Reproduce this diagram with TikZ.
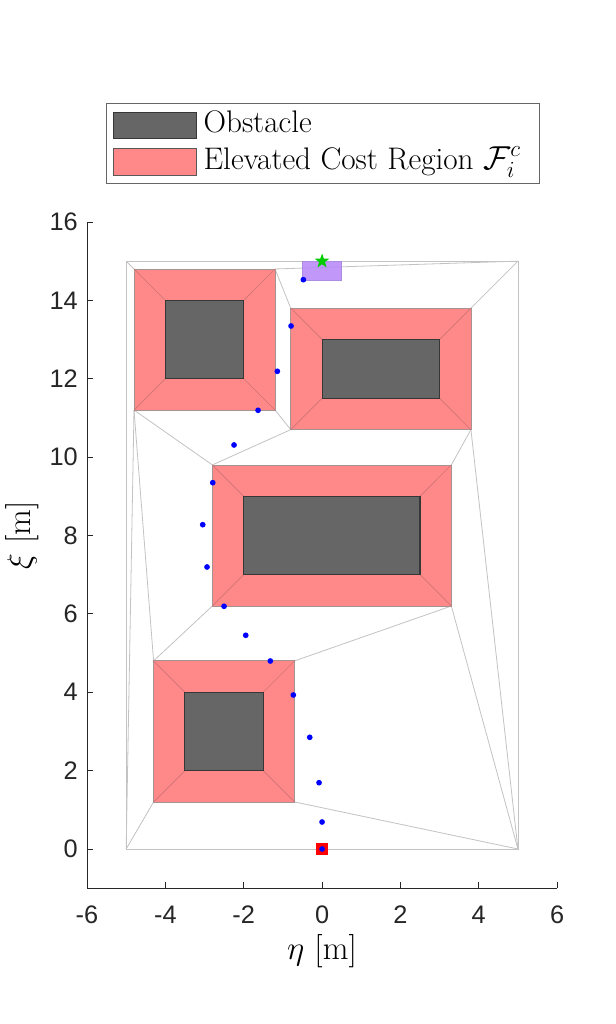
\documentclass[tikz,border=0pt]{standalone}
\usepackage{fontspec}
\usetikzlibrary{shapes.geometric}
\newfontfamily\ticksfont{Liberation Sans}
\definecolor{cellgray}{RGB}{195,195,195}
\definecolor{costred}{RGB}{255,136,136}
\definecolor{costedge}{RGB}{168,145,145}
\definecolor{diagred}{RGB}{205,118,118}
\definecolor{obsgray}{RGB}{102,102,102}
\definecolor{obsedge}{RGB}{55,55,55}
\definecolor{goalpurple}{RGB}{183,135,250}
\definecolor{goaledge}{RGB}{170,140,225}
\definecolor{axiscol}{RGB}{38,38,38}
\definecolor{starcol}{RGB}{0,204,0}
\definecolor{pathblue}{RGB}{0,0,255}
\begin{document}
\begin{tikzpicture}[x=29.38pt,y=29.39pt,
  cellline/.style={draw=cellgray,line width=0.6pt},
  costregion/.style={fill=costred,draw=costedge,line width=0.6pt},
  costdiag/.style={draw=diagred,line width=0.5pt},
  obstacle/.style={fill=obsgray,draw=obsedge,line width=0.8pt},
  axisline/.style={draw=axiscol,line width=0.6pt},
  ticklab/.style={text=axiscol,font=\ticksfont\fontsize{19}{22}\selectfont,inner sep=0pt},
  axlab/.style={text=black,font=\fontsize{25}{29}\selectfont,inner sep=0pt},
  leglab/.style={text=black,font=\fontsize{23.4}{27}\selectfont,inner sep=0pt,anchor=base west},
  pathdot/.style={circle,fill=pathblue,inner sep=0pt,minimum size=4.3pt}
]
\useasboundingbox (-8.2206,-4.4654) rectangle (7.4802,21.6637);
\fill[white] (-8.2206,-4.4654) rectangle (7.4802,21.6637);

% corners
\coordinate (BL0) at (-5,0);  \coordinate (BR0) at (5,0);
\coordinate (TR0) at (5,15);  \coordinate (TL0) at (-5,15);
\coordinate (A1) at (-4.8,14.8); \coordinate (B1) at (-1.2,14.8);
\coordinate (C1) at (-1.2,11.2); \coordinate (D1) at (-4.8,11.2);
\coordinate (A2) at (-0.8,13.8); \coordinate (B2) at (3.8,13.8);
\coordinate (C2) at (3.8,10.7);  \coordinate (D2) at (-0.8,10.7);
\coordinate (A3) at (-2.8,9.8);  \coordinate (B3) at (3.3,9.8);
\coordinate (C3) at (3.3,6.2);   \coordinate (D3) at (-2.8,6.2);
\coordinate (A4) at (-4.3,4.8);  \coordinate (B4) at (-0.7,4.8);
\coordinate (C4) at (-0.7,1.2);  \coordinate (D4) at (-4.3,1.2);
% obstacle corners
\coordinate (a1) at (-4,14); \coordinate (b1) at (-2,14); \coordinate (c1) at (-2,12); \coordinate (d1) at (-4,12);
\coordinate (a2) at (0,13); \coordinate (b2) at (3,13); \coordinate (c2) at (3,11.5); \coordinate (d2) at (0,11.5);
\coordinate (a3) at (-2,9); \coordinate (b3) at (2.5,9); \coordinate (c3) at (2.5,7); \coordinate (d3) at (-2,7);
\coordinate (a4) at (-3.5,4); \coordinate (b4) at (-1.5,4); \coordinate (c4) at (-1.5,2); \coordinate (d4) at (-3.5,2);

% cell decomposition
\draw[cellline] (BL0) -- (BR0) -- (TR0) -- (TL0) -- cycle;
\draw[cellline] (TL0) -- (A1);
\draw[cellline] (B1) -- (TR0);
\draw[cellline] (B1) -- (A2);
\draw[cellline] (B2) -- (TR0);
\draw[cellline] (C1) -- (D2);
\draw[cellline] (D2) -- (A3);
\draw[cellline] (D1) -- (A3);
\draw[cellline] (D1) -- (A4);
\draw[cellline] (D1) -- (BL0);
\draw[cellline] (C2) -- (B3);
\draw[cellline] (C2) -- (BR0);
\draw[cellline] (C3) -- (BR0);
\draw[cellline] (B4) -- (C3);
\draw[cellline] (D3) -- (A4);
\draw[cellline] (D4) -- (BL0);
\draw[cellline] (C4) -- (BR0);

% elevated cost regions
\foreach \i in {1,2,3,4}{
  \draw[costregion] (A\i) -- (B\i) -- (C\i) -- (D\i) -- cycle;
  \draw[costdiag] (A\i) -- (a\i) (B\i) -- (b\i) (C\i) -- (c\i) (D\i) -- (d\i);
  \draw[obstacle] (a\i) -- (b\i) -- (c\i) -- (d\i) -- cycle;
}

% goal region
\draw[fill=goalpurple,fill opacity=0.85,draw=goaledge,line width=0.5pt] (-0.5,14.5) rectangle (0.5,15);

% start marker
\node[rectangle,fill=red,inner sep=0pt,minimum size=9.6pt] (start) at (0,0) {};

% path
\foreach \px/\py [count=\k] in {0/0,0/0.689,-0.077/1.692,-0.314/2.850,-0.733/3.930,-1.320/4.797,-1.948/5.453,-2.502/6.193,-2.936/7.196,-3.046/8.275,-2.790/9.347,-2.247/10.309,-1.634/11.194,-1.141/12.189,-0.791/13.345,-0.477/14.527}{
  \node[pathdot] (p\k) at (\px,\py) {};
}

% goal star
\node[star,star points=5,star point ratio=2.5,fill=starcol,inner sep=0pt,minimum size=11.5pt] (goal) at (0,15) {};

% axes
\coordinate (O) at (-6,-1);
\coordinate (XE) at (6,-1);
\coordinate (YE) at (-6,16);
\draw[axisline] (YE) -- (O) -- (XE);
\foreach \x in {-6,-4,...,6}{
  \draw[axisline] (\x,-1) -- ++(0,4.5pt);
  \node[ticklab,anchor=center] (xt\x) at (\x,-1.684) {\ifnum\x<0 -\number\numexpr-\x\relax\else\x\fi};
}
\foreach \y in {0,2,...,16}{
  \draw[axisline] (-6,\y) -- ++(4.5pt,0);
  \node[ticklab,anchor=east] (yt\y) at (-6.229,\y) {\y};
}
\node[axlab] (xlabel) at (0,-2.616) {$\eta$ [m]};
\node[axlab,rotate=90] (ylabel) at (-7.66,8.0) {$\xi$ [m]};

% legend
\draw[draw=black!60,fill=white,line width=0.6pt] (-5.514,16.994) rectangle (5.540,19.036);
\draw[fill=obsgray,draw=obsedge,line width=0.7pt] (-5.336,18.135) rectangle (-3.217,18.798);
\draw[fill=costred,draw=black!65,line width=0.7pt] (-5.336,17.198) rectangle (-3.217,17.879);
\node[leglab] (leg1) at (-3.03,18.27) {Obstacle};
\node[leglab] (leg2) at (-3.03,17.35) {Elevated Cost Region $\mathcal{F}_i^c$};
\end{tikzpicture}
\end{document}
